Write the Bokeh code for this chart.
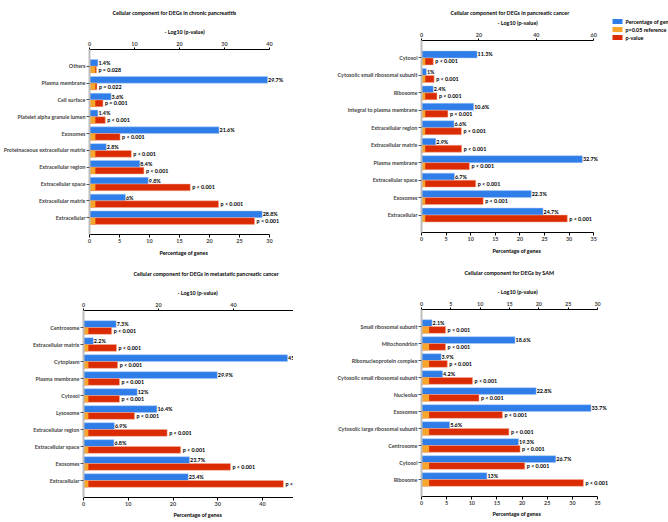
from bokeh.plotting import figure
from bokeh.models import (Range1d, LinearAxis, FixedTicker, ColumnDataSource,
                          LabelSet, Spacer, Title)
from bokeh.layouts import column, row
from bokeh.core.properties import value
from bokeh.embed import file_html
from bokeh.resources import INLINE

FONT = "'Liberation Sans Narrow', Lato, sans-serif"
FS = "5.4px"
BLUE = "#2e7de9"
ORANGE = "#f7a62b"
RED = "#db2b02"
P_REF = 1.3  # -log10(0.05)

# ---------------- data ----------------
cp_title = "Cellular component for DEGs in chronic pancreatitis"
cp_cats = ["Others", "Plasma membrane", "Cell surface", "Platelet alpha granule lumen",
           "Exosomes", "Proteinaceous extracellular matrix", "Extracellular region",
           "Extracellular space", "Extracellular matrix", "Extracellular"]
cp_pct = [1.4, 29.7, 3.6, 1.4, 21.6, 2.8, 8.4, 9.8, 6, 28.8]
cp_logp = [1.55, 1.66, 3.0, 3.5, 6.8, 9.3, 12.1, 22.4, 28.7, 36.7]
cp_plab = ["p = 0.028", "p = 0.022", "p = 0.001"] + ["p < 0.001"] * 7
cp_pct_ticks = [0, 5, 10, 15, 20, 25, 30]
cp_log_ticks = [0, 10, 20, 30, 40]

pc_title = "Cellular component for DEGs in pancreatic cancer"
pc_cats = ["Cytosol", "Cytosolic small ribosomal subunit", "Ribosome",
           "Integral to plasma membrane", "Extracellular region", "Extracellular matrix",
           "Plasma membrane", "Extracellular space", "Exosomes", "Extracellular"]
pc_pct = [11.3, 1, 2.4, 10.6, 6.6, 2.9, 32.7, 6.7, 22.3, 24.7]
pc_logp = [4.1, 4.4, 5.4, 9.2, 13.9, 14.0, 16.7, 18.9, 21.5, 50.8]
pc_plab = ["p < 0.001"] * 10
pc_pct_ticks = [0, 5, 10, 15, 20, 25, 30, 35]
pc_log_ticks = [0, 20, 40, 60]

mp_title = "Cellular component for DEGs in metastatic pancreatic cancer"
mp_cats = ["Centrosome", "Extracellular matrix", "Cytoplasm", "Plasma membrane", "Cytosol",
           "Lysosome", "Extracellular region", "Extracellular space", "Exosomes", "Extracellular"]
mp_pct = [7.3, 2.2, 45.6, 29.9, 12, 16.4, 6.9, 6.8, 23.7, 23.4]
mp_logp = [7.5, 8.8, 9.1, 9.6, 9.6, 13.6, 22.3, 25.9, 39.2, 53.3]
mp_plab = ["p < 0.001"] * 10
mp_pct_ticks = [0, 10, 20, 30, 40]
mp_log_ticks = [0, 20, 40]

sm_title = "Cellular component for DEGs by SAM"
sm_cats = ["Small ribosomal subunit", "Mitochondrion", "Ribonucleoprotein complex",
           "Cytosolic small ribosomal subunit", "Nucleolus", "Exosomes",
           "Cytosolic large ribosomal subunit", "Centrosome", "Cytosol", "Ribosome"]
sm_pct = [2.1, 18.6, 3.9, 4.2, 22.8, 33.7, 5.6, 19.3, 26.7, 13]
sm_logp = [4.1, 4.1, 4.4, 8.7, 9.8, 13.8, 14.9, 16.8, 17.6, 27.6]
sm_plab = ["p < 0.001"] * 10
sm_pct_ticks = [0, 5, 10, 15, 20, 25, 30, 35]
sm_log_ticks = [0, 5, 10, 15, 20, 25, 30]

legend_labels = ["Percentage of genes", "p=0.05 reference", "p-value"]
legend_colors = [BLUE, ORANGE, RED]


def style_axis(ax, tick_out, label_standoff):
    ax.major_label_text_font = FONT
    ax.major_label_text_font_size = FS
    ax.major_label_text_font_style = "bold"
    ax.major_tick_in = 0
    ax.major_tick_out = tick_out
    ax.minor_tick_in = 0
    ax.minor_tick_out = 0
    ax.axis_line_color = "black"
    ax.major_tick_line_color = "black"
    ax.major_label_standoff = label_standoff


def text_title(text, offset, standoff, valign):
    return Title(text=text, align="left", offset=offset, standoff=standoff,
                 vertical_align=valign, text_font=FONT, text_font_size=FS,
                 text_font_style="bold", text_color="black")


def panel(title, cats, pct, logp, plab, pct_max, pct_ticks, log_max, log_ticks,
          left, fw, right, top, fh, bottom, ppu, scale_px, offs, stand):
    n = len(cats)
    ys = [n - i for i in range(n)]
    pct_end = fw / ppu
    log_end = fw / (scale_px / log_max)
    p = figure(width=left + fw + right, height=top + fh + bottom,
               x_range=Range1d(0, pct_end), y_range=Range1d(0, n + 1),
               output_backend="svg", toolbar_location=None,
               min_border_left=left, min_border_right=right,
               min_border_top=top, min_border_bottom=bottom,
               x_axis_location=None, y_axis_location=None)
    p.grid.visible = False
    p.outline_line_color = None
    p.extra_x_ranges = {"lp": Range1d(0, log_end)}

    xb = LinearAxis(ticker=FixedTicker(ticks=pct_ticks), bounds=(0, min(pct_max, pct_end)))
    style_axis(xb, 3, 1)
    p.add_layout(xb, "below")
    p.add_layout(text_title("Percentage of genes", offs[2], stand[2], "top"), "below")

    xt = LinearAxis(x_range_name="lp", ticker=FixedTicker(ticks=log_ticks),
                    bounds=(0, min(log_max, log_end)))
    style_axis(xt, 2, 2)
    p.add_layout(xt, "above")
    p.add_layout(text_title("- Log10 (p-value)", offs[1], stand[1], "bottom"), "above")
    p.add_layout(text_title(title, offs[0], stand[0], "bottom"), "above")

    ya = LinearAxis(ticker=FixedTicker(ticks=ys),
                    major_label_overrides={y: c for y, c in zip(ys, cats)})
    style_axis(ya, 3, 1)
    ya.axis_line_color = "#bdbdbd"
    ya.axis_line_width = 2
    ya.major_tick_line_color = "#555555"
    p.add_layout(ya, "left")

    src = ColumnDataSource(dict(
        yb=[y + 0.2 for y in ys], yr=[y - 0.2 for y in ys],
        pct=pct, lp=logp, ref=[P_REF] * n,
        pl=[f"{v:g}%" for v in pct], plab=plab))
    p.hbar(y="yb", left=0, right="pct", height=0.4, source=src,
           fill_color=BLUE, line_color="#a8c9f4", line_width=0.5)
    p.hbar(y="yr", left=0, right="lp", height=0.4, source=src, x_range_name="lp",
           fill_color=RED, line_color="#f3b09c", line_width=0.5)
    p.hbar(y="yr", left=0, right="ref", height=0.4, source=src, x_range_name="lp",
           fill_color=ORANGE, line_color=None)

    common = dict(source=src, text_font=value(FONT), text_font_size=value(FS),
                  text_font_style="bold", text_baseline="middle", text_align="left",
                  text_color="black")
    p.add_layout(LabelSet(x="pct", y="yb", text="pl", x_offset=0.5, **common))
    p.add_layout(LabelSet(x="lp", y="yr", text="plab", x_range_name="lp", x_offset=2, **common))
    return p


def legend_fig(width, height, x0, y0, step):
    # a small key drawn in pixel units of its own canvas
    pl = figure(width=width, height=height, x_range=Range1d(0, width), y_range=Range1d(0, height),
                output_backend="svg", toolbar_location=None,
                min_border_left=0, min_border_right=0, min_border_top=0, min_border_bottom=0,
                x_axis_location=None, y_axis_location=None)
    pl.grid.visible = False
    pl.outline_line_color = None
    k = len(legend_labels)
    src = ColumnDataSource(dict(
        y=[height - (y0 + step * i) for i in range(k)],
        c=legend_colors, t=legend_labels))
    pl.hbar(y="y", left=x0, right=x0 + 10, height=5, fill_color="c", line_color=None, source=src)
    pl.add_layout(LabelSet(x=x0 + 13, y="y", text="t", source=src, text_font=value(FONT),
                           text_font_size=value(FS), text_font_style="bold",
                           text_baseline="middle", text_align="left", text_color="black"))
    return pl


p1 = panel(cp_title, cp_cats, cp_pct, cp_logp, cp_plab, 30, cp_pct_ticks, 40, cp_log_ticks,
           83, 217, 34, 48, 191, 22, 185 / 30, 185, (23, 75, 70), (14, 8, 8))
p2 = panel(pc_title, pc_cats, pc_pct, pc_logp, pc_plab, 35, pc_pct_ticks, 60, pc_log_ticks,
           68, 203, 0, 40, 192, 29, 190 / 35, 190, (29, 76, 71), (-4, 8, 8))
pleg = legend_fig(63, 261, 7, 21, 8)
p3 = panel(mp_title, mp_cats, mp_pct, mp_logp, mp_plab, 60, mp_pct_ticks, 60, mp_log_ticks,
           83, 210, 0, 49, 191, 21, 4.475, 210 * 60 / 56, (50, 94, 90), (14, 8, 6))
p4 = panel(sm_title, sm_cats, sm_pct, sm_logp, sm_plab, 35, sm_pct_ticks, 30, sm_log_ticks,
           73, 204, 57, 46, 191, 24, 189 / 35, 189, (43, 76, 71), (13, 8, 7))

layout = column(row(column(p1), column(p2), column(pleg)),
                row(column(p3), Spacer(width=41, height=10), column(p4)))

with open("out.html", "w") as f:
    f.write(file_html(layout, INLINE))
